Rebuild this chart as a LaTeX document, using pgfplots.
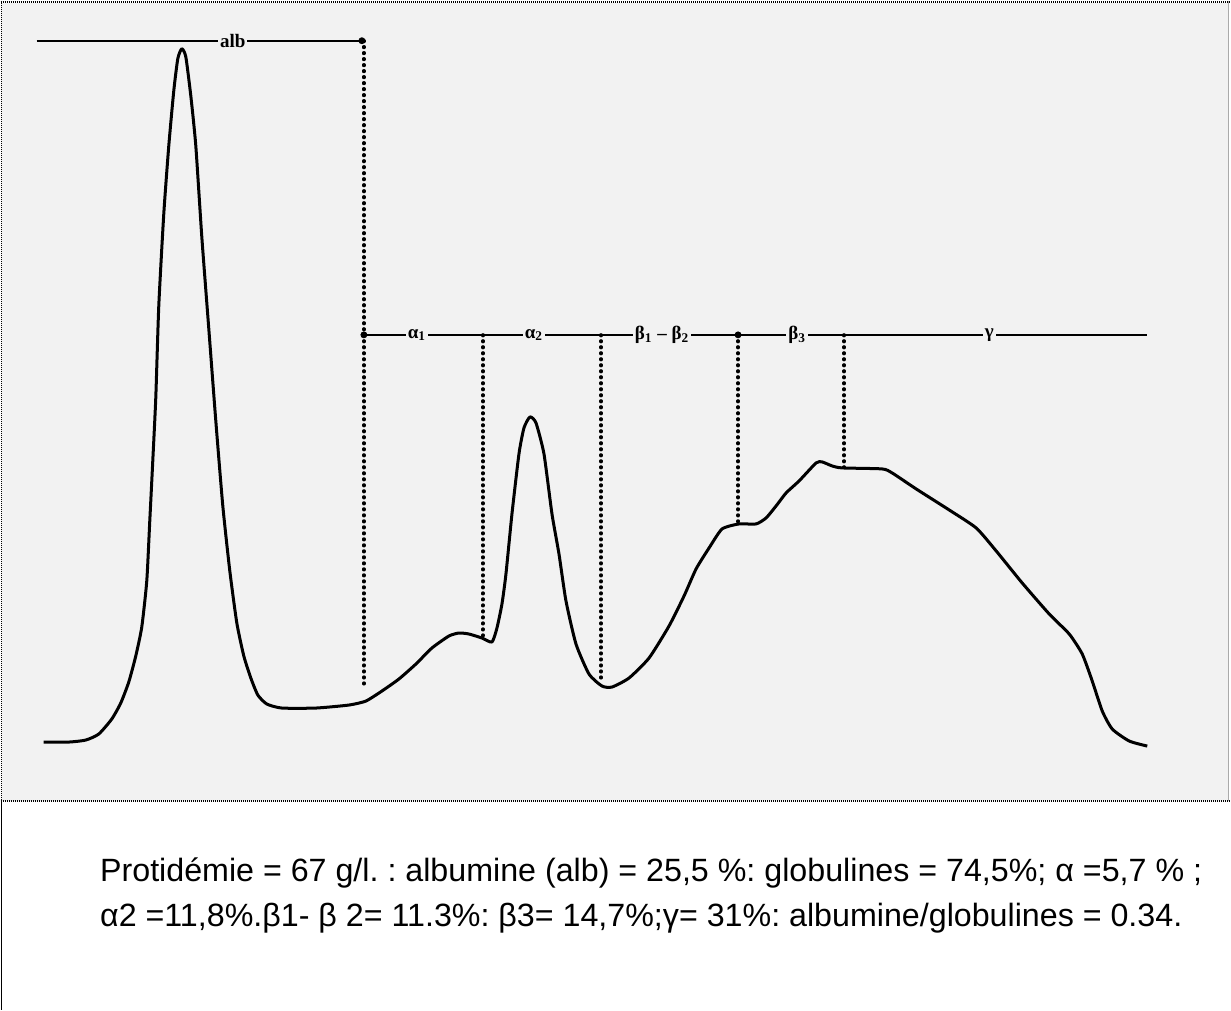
\documentclass[border=0pt]{standalone}
\usepackage{pgfplots}
\pgfplotsset{compat=1.18}
\usepackage{fontspec}
\setmainfont{Liberation Sans}
\newfontfamily\labfont{Liberation Serif}
\definecolor{bggrey}{RGB}{242,242,242}
\definecolor{edgegrey}{RGB}{170,170,170}
\frenchspacing

\begin{document}
\begin{tikzpicture}
\begin{axis}[scale only axis, width=615.5pt, height=504.5pt,
    xmin=0, xmax=1231, ymin=0, ymax=1009, y dir=reverse,
    axis lines=none, clip=false]
% panel background and frame
\fill[bggrey] (axis cs:2,2) rectangle (axis cs:1229,800);
\draw[line width=0.7pt, dash pattern=on 0.5pt off 0.5pt] (axis cs:2,1.5) -- (axis cs:1231,1.5);
\draw[line width=0.7pt, dash pattern=on 0.5pt off 0.5pt] (axis cs:2.5,0) -- (axis cs:2.5,800);
\draw[line width=0.6pt, edgegrey] (axis cs:1229.5,0) -- (axis cs:1229.5,800);
\draw[line width=0.6pt, dash pattern=on 0.5pt off 0.5pt] (axis cs:2,800) -- (axis cs:1231,800);
\draw[line width=0.7pt] (axis cs:2.5,800) -- (axis cs:2.5,1009);

% fraction boundaries (dotted)
\pgfplotsset{bound/.style={line width=1.7pt, line cap=round, dash pattern=on 0.4pt off 2.6pt}}
\addplot[bound] coordinates {(365,40)(365,687)};
\addplot[bound] coordinates {(484,334)(484,636)};
\addplot[bound] coordinates {(602,334)(602,680)};
\addplot[bound] coordinates {(739,334)(739,521)};
\addplot[bound] coordinates {(845,334)(845,466)};

% reference lines
\addplot[line width=1pt] coordinates {(38,40)(363,40)};
\addplot[line width=1pt] coordinates {(365,334)(1148,334)};
\addplot[only marks, mark=*, mark size=1.5pt] coordinates {(363,40)(365,334)(739,334)};

% densitometry trace
\addplot[line width=1.5pt, line join=round, smooth, tension=0.35] coordinates {
(45,741)(70,741)(87,739)(100,733)(113,718)(122,702)(130,681)(137,655)
(143,626)(148,580)(151,520)(154,460)(157,397)(160,305)(165,213)(170,145)(175,90)
(179,58)(183,48)(187,56)(192,95)(197,145)(203,236)(210,328)(217,420)
(224,505)(231,570)(238,622)(245,655)(252,677)(259,694)(268,703)(283,707)
(317,707)(350,704)(367,700)(383,690)(400,678)(417,663)(433,647)(450,635)
(460,632)(470,633)(483,637)(493,641)(498,627)(503,603)(507,573)(513,513)
(520,453)(525,427)(531,416)(537,422)(545,453)(553,513)(560,553)(567,600)
(577,643)(590,673)(603,685)(613,686)(630,677)(650,657)(670,625)(685,595)
(697,568)(710,547)(723,528)(740,523)(757,523)(767,517)(777,505)(787,492)
(800,480)(817,462)(823,461)(833,465)(843,467)(883,468)(893,472)(917,488)
(950,509)(977,527)(997,550)(1023,582)(1050,613)(1070,633)(1083,653)
(1093,680)(1103,710)(1113,728)(1130,740)(1148,745)};

% fraction labels
\begin{scope}[every node/.style={fill=bggrey, inner sep=1pt, font=\labfont\fontsize{9.5}{9.5}\selectfont\bfseries}]
\node at (axis cs:234,40) {alb};
\node at (axis cs:418,334) {α\textsubscript{1}};
\node at (axis cs:535,334) {α\textsubscript{2}};
\node at (axis cs:663,334) {β\textsubscript{1} – β\textsubscript{2}};
\node at (axis cs:798,334) {β\textsubscript{3}};
\node at (axis cs:990,334) {γ};
\end{scope}

% caption
\node[anchor=base west, inner sep=0pt, font=\fontsize{16.1}{19}\selectfont]
  at (axis cs:101,880) {Protidémie = 67 g/l. : albumine (alb) = 25,5 \%: globulines = 74,5\%; α =5,7 \% ;};
\node[anchor=base west, inner sep=0pt, font=\fontsize{16.1}{19}\selectfont]
  at (axis cs:101,925) {α2 =11,8\%.β1- β 2= 11.3\%: β3= 14,7\%;γ= 31\%: albumine/globulines = 0.34.};
\end{axis}
\end{tikzpicture}
\end{document}
